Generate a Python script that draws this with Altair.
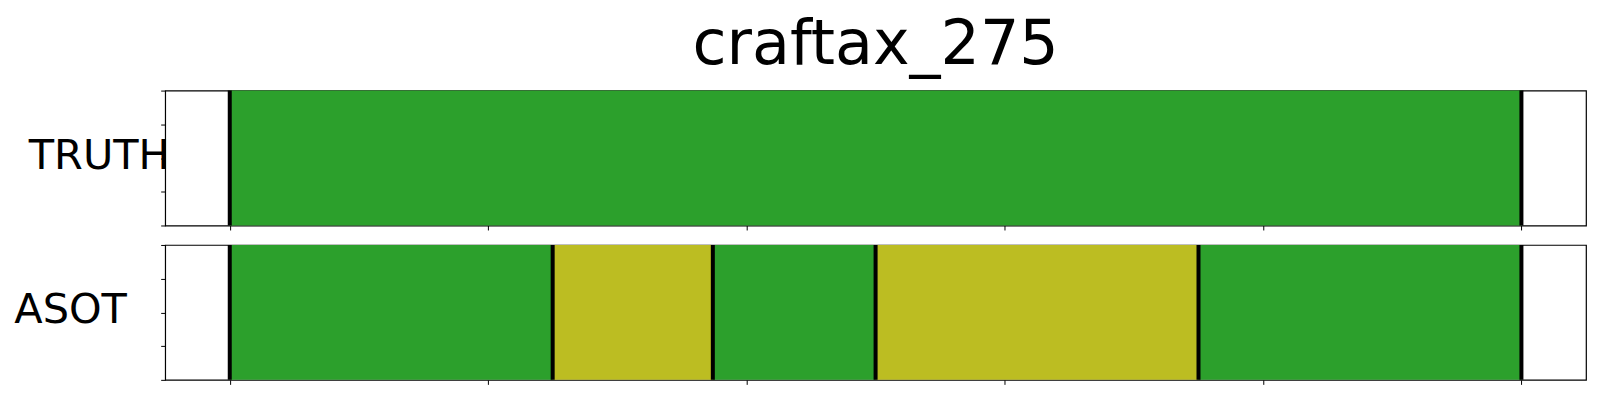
import altair as alt
import pandas as pd

TITLE = "craftax_275"
ROW_LABELS = ["TRUTH", "ASOT"]

TRUTH_START = [0]
TRUTH_END = [250]
TRUTH_CLASS = ["class_a"]

ASOT_START = [0, 62.5, 93.5, 125, 187.5]
ASOT_END = [62.5, 93.5, 125, 187.5, 250]
ASOT_CLASS = ["class_a", "class_b", "class_a", "class_b", "class_a"]

CLASS_NAMES = ["class_a", "class_b"]
CLASS_COLORS = ["#2ca02c", "#bcbd22"]

X_TICKS = [0, 50, 100, 150, 200, 250]
Y_TICKS = [0, 0.25, 0.5, 0.75, 1]
X_DOMAIN = [-12.5, 262.5]

W, H = 1422, 135
FONT = "DejaVu Sans"


def panel(label, starts, ends, classes, label_x, with_title):
    seg = pd.DataFrame({"start": starts, "end": ends, "cls": classes,
                        "y0": [0.0] * len(starts), "y1": [1.0] * len(starts)})
    bounds = sorted(set(starts) | set(ends))
    bdf = pd.DataFrame({"b": bounds})
    xs = alt.Scale(domain=X_DOMAIN, nice=False, zero=False)
    ys = alt.Scale(domain=[0, 1], nice=False, zero=False)
    rects = alt.Chart(seg).mark_rect().encode(
        x=alt.X("start:Q", scale=xs,
                axis=alt.Axis(values=X_TICKS, labels=False, ticks=True, tickSize=4.5,
                              domain=False, grid=False, title=None)),
        x2="end:Q",
        y=alt.Y("y0:Q", scale=ys,
                axis=alt.Axis(values=Y_TICKS, labels=False, ticks=True, tickSize=4.5,
                              domain=False, grid=False, title=None)),
        y2="y1:Q",
        color=alt.Color("cls:N", scale=alt.Scale(domain=CLASS_NAMES, range=CLASS_COLORS),
                        legend=None),
    )
    rules = alt.Chart(bdf).mark_rule(color="black", strokeWidth=4).encode(
        x=alt.X("b:Q", scale=xs)
    )
    lab = alt.Chart(pd.DataFrame({"t": [label]})).mark_text(
        align="left", baseline="alphabetic", fontSize=41.5, font=FONT, color="black"
    ).encode(x=alt.value(label_x), y=alt.value(78), text="t:N")
    layers = [rects, rules, lab]
    if with_title:
        ttl = alt.Chart(pd.DataFrame({"t": [TITLE]})).mark_text(
            align="center", baseline="top", fontSize=62, font=FONT, color="black"
        ).encode(x=alt.value(W / 2), y=alt.value(-76), text="t:N")
        layers.append(ttl)
    return alt.layer(*layers).properties(width=W, height=H)


top = panel(ROW_LABELS[0], TRUTH_START, TRUTH_END, TRUTH_CLASS, -136.5, True)
bottom = panel(ROW_LABELS[1], ASOT_START, ASOT_END, ASOT_CLASS, -151, False)

chart = alt.vconcat(top, bottom, spacing=10.5).properties(
    padding={"left": 5.3, "top": 4.5, "right": 5, "bottom": 5}
).configure_view(stroke="black", strokeWidth=1.2).configure_axis(
    tickColor="black", tickWidth=1
)

chart.save("out.html", embed_options={"renderer": "svg", "actions": False})
